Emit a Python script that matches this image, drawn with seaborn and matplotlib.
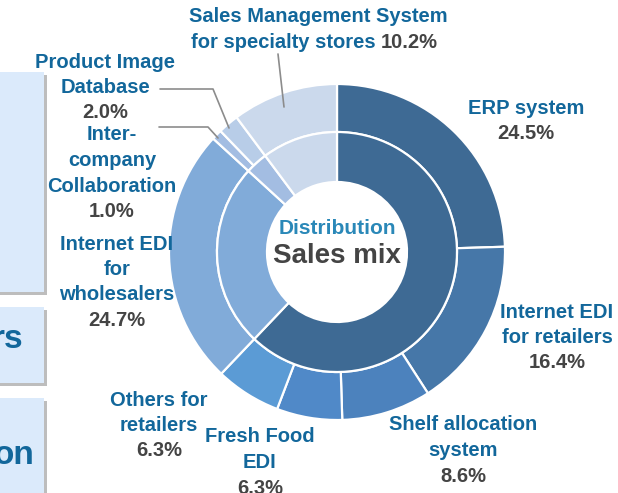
import numpy as np
import seaborn as sns
import matplotlib.pyplot as plt
from matplotlib.patches import Rectangle

# Outer ring: products, clockwise from 12 o'clock
products = ['ERP system', 'Internet EDI for retailers', 'Shelf allocation system',
            'Fresh Food EDI', 'Others for retailers', 'Internet EDI for wholesalers',
            'Inter-company Collaboration', 'Product Image Database',
            'Sales Management System for specialty stores']
shares = [24.5, 16.4, 8.6, 6.3, 6.3, 24.7, 1.0, 2.0, 10.2]
outer_colors = ['#3e6a94', '#4677a8', '#4c82bd', '#5089c8', '#5b9bd5',
                '#81abd9', '#a3bde2', '#b8cde8', '#cbd9ec']

# Inner ring: customer groups (which products belong to each)
groups = ['Retailers', 'Wholesalers', 'Other', 'Specialty stores']
group_members = [[0, 1, 2, 3, 4], [5], [6, 7], [8]]
group_shares = [sum(shares[i] for i in m) for m in group_members]
inner_colors = ['#3e6a94', '#81abd9', '#a3bde2', '#cbd9ec']

sns.set_theme(style='white')
plt.rcParams['font.family'] = ['Liberation Sans', 'DejaVu Sans']

W, H = 618, 493
fig = plt.figure(figsize=(W / 100, H / 100), dpi=100)
ax = fig.add_axes([0, 0, 1, 1])

BLUE = '#12679b'
GRAY = '#444444'
cx, cy = 337, H - 252

wp = dict(edgecolor='white', linewidth=1.6)
ax.pie(shares, radius=168, center=(cx, cy), colors=outer_colors, startangle=90,
       counterclock=False, wedgeprops=dict(width=48, **wp))
ax.pie(group_shares, radius=120, center=(cx, cy), colors=inner_colors, startangle=90,
       counterclock=False, wedgeprops=dict(width=50, **wp))

ax.set_xlim(0, W)
ax.set_ylim(0, H)
ax.set_aspect('equal')
ax.axis('off')

# cut-off boxes on the left
for y0, y1 in [(72, 292), (307, 383), (398, 500)]:
    ax.add_patch(Rectangle((0, H - y1 - 3), 47, y1 - y0, facecolor='#bdbdbd', edgecolor='none'))
    ax.add_patch(Rectangle((0, H - y1), 44, y1 - y0, facecolor='#dbeafb', edgecolor='none'))
ax.text(23, H - 340, 'rs', color=BLUE, fontsize=24, fontweight='bold', ha='right', va='center')
ax.text(35, H - 455, 'on', color=BLUE, fontsize=24, fontweight='bold', ha='right', va='center')

FS = 14.5
LS = 25.5


def label(x, y, lines, pct):
    for i, ln in enumerate(lines):
        ax.text(x, H - (y + i * LS), ln, color=BLUE, fontsize=FS, fontweight='bold',
                ha='center', va='center')
    ax.text(x, H - (y + len(lines) * LS), pct, color=GRAY, fontsize=FS,
            fontweight='bold', ha='center', va='center')


pct = ['%.1f%%' % s for s in shares]
label(526, 108, ['ERP system'], pct[0])
label(557, 312, ['Internet EDI', 'for retailers'], pct[1])
label(463, 425, ['Shelf allocation', 'system'], pct[2])
label(260, 437, ['Fresh Food', 'EDI'], pct[3])
label(159, 400, ['Others for', 'retailers'], pct[4])
label(117, 244, ['Internet EDI', 'for', 'wholesalers'], pct[5])
label(112, 135, ['Inter-', 'company', 'Collaboration'], pct[6])
label(105, 62, ['Product Image', 'Database'], pct[7])

ax.text(318, H - 17, 'Sales Management System', color=BLUE, fontsize=FS,
        fontweight='bold', ha='center', va='center')
ax.text(376, H - 42, 'for specialty stores', color=BLUE, fontsize=FS,
        fontweight='bold', ha='right', va='center')
ax.text(381, H - 42, pct[8], color=GRAY, fontsize=FS, fontweight='bold',
        ha='left', va='center')

# leader lines
lc = dict(color='#8c8c8c', linewidth=1.2)
ax.plot([278, 284], [H - 54, H - 107], **lc)
ax.plot([160, 213, 229], [H - 89, H - 89, H - 128], **lc)
ax.plot([159, 208, 218], [H - 127, H - 127, H - 138], **lc)

# centre title
ax.text(cx, H - 228, 'Distribution', color='#2a88b8', fontsize=15, fontweight='bold',
        ha='center', va='center')
ax.text(cx, H - 256, 'Sales mix', color='#444444', fontsize=20, fontweight='bold',
        ha='center', va='center')

fig.savefig('out.png', dpi=100)
